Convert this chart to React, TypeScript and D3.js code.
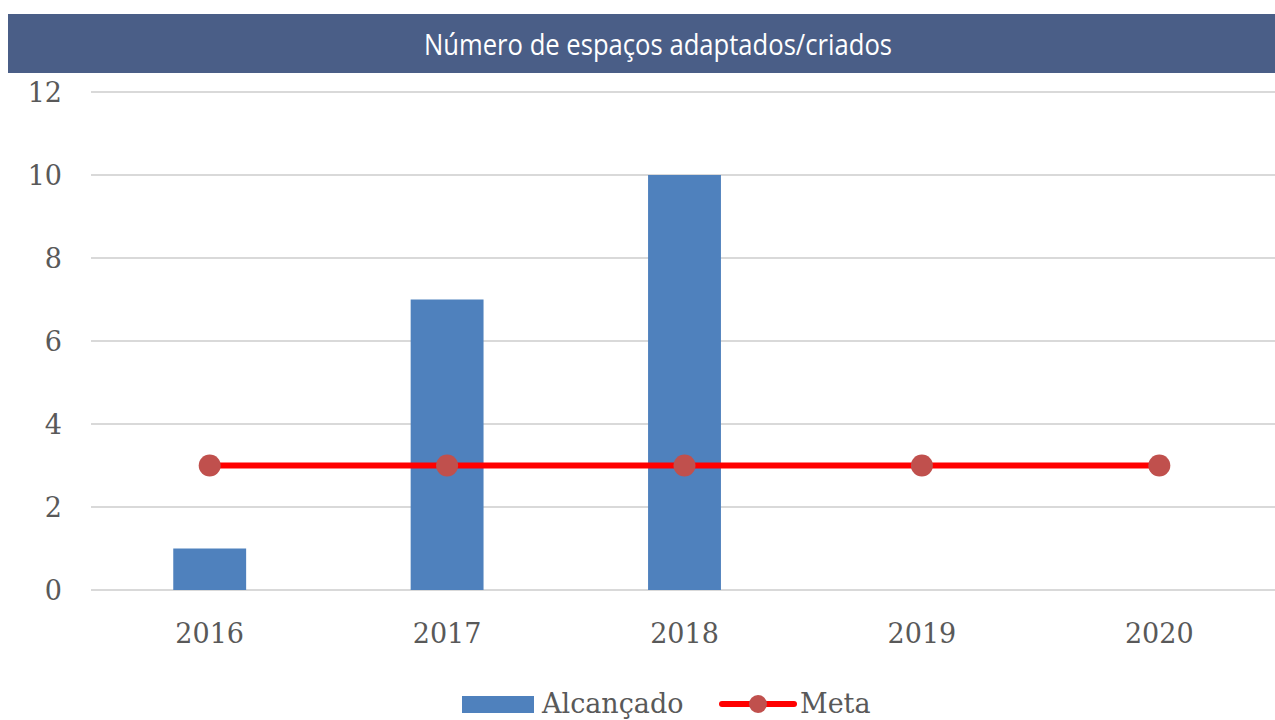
import React from "react";
import * as d3 from "d3";

const title = "Número de espaços adaptados/criados";
const categories = ["2016", "2017", "2018", "2019", "2020"];
const alcancado: (number | null)[] = [1, 7, 10, null, null];
const meta = [3, 3, 3, 3, 3];
const yTicks = [0, 2, 4, 6, 8, 10, 12];
const seriesNames = ["Alcançado", "Meta"];

export default function App() {
  const W = 1275, H = 720;
  const left = 91, right = 1278, top = 92, bottom = 590;
  const x = d3.scaleBand<string>().domain(categories).range([left, right]).paddingInner(0.693).paddingOuter(0.3465);
  const xc = (c: string) => (x(c) ?? 0) + x.bandwidth() / 2;
  const y = d3.scaleLinear().domain([0, 12]).range([bottom, top]);
  const line = d3.line<number>().x((_, i) => xc(categories[i])).y((d) => y(d));
  const serif = "'DejaVu Serif', serif";
  const gray = "#595959";
  return (
    <svg width={W} height={H} style={{ position: "absolute", left: 0, top: 0 }}>
      <rect x={0} y={0} width={W} height={H} fill="#fff" />
      <rect x={8} y={14} width={W - 8} height={59} fill="#4a5e87" />
      <text x={658} y={55} textAnchor="middle" fill="#fff" fontFamily="'Open Sans', sans-serif" fontSize={30} textLength={468} lengthAdjust="spacingAndGlyphs">{title}</text>
      {yTicks.map((t) => (
        <g key={t}>
          <line x1={left} x2={W} y1={y(t)} y2={y(t)} stroke="#d9d9d9" strokeWidth={2} />
          <text x={62} y={y(t) + 10} textAnchor="end" fill={gray} fontFamily={serif} fontSize={27}>{t}</text>
        </g>
      ))}
      {categories.map((c, i) => (
        <g key={c}>
          {alcancado[i] != null && (
            <rect x={x(c)} y={y(alcancado[i] as number)} width={x.bandwidth()} height={y(0) - y(alcancado[i] as number)} fill="#4f81bd" />
          )}
          <text x={xc(c)} y={643} textAnchor="middle" fill={gray} fontFamily={serif} fontSize={27}>{c}</text>
        </g>
      ))}
      <path d={line(meta) ?? ""} fill="none" stroke="#ff0000" strokeWidth={6} />
      {meta.map((v, i) => (
        <circle key={i} cx={xc(categories[i])} cy={y(v)} r={11} fill="#c0504d" />
      ))}
      <rect x={462} y={696} width={72} height={17} fill="#4f81bd" />
      <text x={542} y={713} fill={gray} fontFamily={serif} fontSize={27}>{seriesNames[0]}</text>
      <line x1={722} x2={794} y1={704} y2={704} stroke="#ff0000" strokeWidth={6} strokeLinecap="round" />
      <circle cx={758} cy={704} r={9} fill="#c0504d" />
      <text x={800} y={713} fill={gray} fontFamily={serif} fontSize={27}>{seriesNames[1]}</text>
    </svg>
  );
}
